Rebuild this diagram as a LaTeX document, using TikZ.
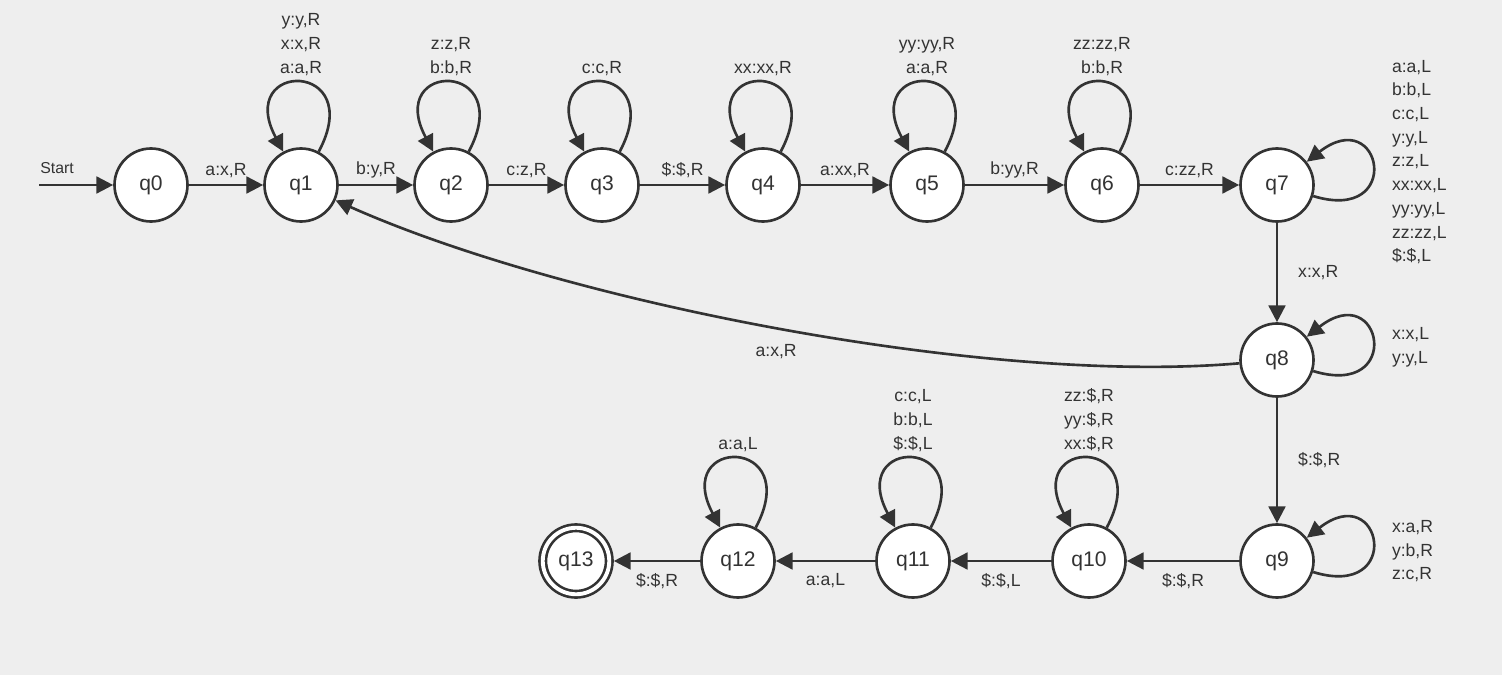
\documentclass[tikz,border=0pt]{standalone}
\usepackage{fontspec}
\setmainfont{Liberation Sans}
\usetikzlibrary{arrows.meta}

\definecolor{ink}{HTML}{333333}
\definecolor{paper}{HTML}{EEEEEE}

\begin{document}
\begin{tikzpicture}[>={Triangle[length=9.5pt,width=9.5pt]}, line width=1.5pt, color=ink,
    state/.style={circle, draw, fill=white, minimum size=1.46cm, inner sep=0pt, font=\fontsize{12}{14}\selectfont},
    accept/.style={state, double, double distance=2.2pt, minimum size=1.33cm, outer sep=2.6pt},
    tlabel/.style={font=\fontsize{10}{13.5}\selectfont, align=center}]
    % Background
    \fill[paper] (0,0) rectangle (30.04,13.5);
    \useasboundingbox (0,0) rectangle (30.04,13.5);

    % States
    \node[state] (q0) at (3.02,9.8) {q0};
    \node[state] (q1) at (6.02,9.8) {q1};
    \node[state] (q2) at (9.02,9.8) {q2};
    \node[state] (q3) at (12.04,9.8) {q3};
    \node[state] (q4) at (15.26,9.8) {q4};
    \node[state] (q5) at (18.54,9.8) {q5};
    \node[state] (q6) at (22.04,9.8) {q6};
    \node[state] (q7) at (25.54,9.8) {q7};
    \node[state] (q8) at (25.54,6.3) {q8};
    \node[state] (q9) at (25.54,2.28) {q9};
    \node[state] (q10) at (21.78,2.28) {q10};
    \node[state] (q11) at (18.26,2.28) {q11};
    \node[state] (q12) at (14.76,2.28) {q12};
    \node[accept] (q13) at (11.52,2.28) {q13};

    % Start arrow
    \coordinate (s) at (0.78,9.8);
    \node[font=\fontsize{9}{10}\selectfont, anchor=south west, inner xsep=0pt, yshift=2.5pt] (start) at (s) {Start};
    \draw[->] (s) -- (q0);

    % Transitions
    \draw[->] (q0) -- node[tlabel, above] {a:x,R} (q1);
    \draw[->] (q1) -- node[tlabel, above] {b:y,R} (q2);
    \draw[->] (q2) -- node[tlabel, above] {c:z,R} (q3);
    \draw[->] (q3) -- node[tlabel, above] {\$:\$,R} (q4);
    \draw[->] (q4) -- node[tlabel, above] {a:xx,R} (q5);
    \draw[->] (q5) -- node[tlabel, above] {b:yy,R} (q6);
    \draw[->] (q6) -- node[tlabel, above] {c:zz,R} (q7);
    \draw[->] (q7) -- node[tlabel, right=8pt] {x:x,R} (q8);
    \draw[->] (q8) -- node[tlabel, right=8pt] {\$:\$,R} (q9);
    \draw[->] (q9) -- node[tlabel, below=3pt] {\$:\$,R} (q10);
    \draw[->] (q10) -- node[tlabel, below=3pt] {\$:\$,L} (q11);
    \draw[->] (q11) -- node[tlabel, below=3pt] {a:a,L} (q12);
    \draw[->] (q12) -- node[tlabel, below=3pt] {\$:\$,R} (q13);
    \draw[->] (q8) to[out=185, in=-24, looseness=0.7] node[tlabel, below=5pt, xshift=-2pt] {a:x,R} (q1);

    % Loops
    \draw[->] (q1) to[out=62, in=118, looseness=7.5] node[tlabel, above] {y:y,R\\x:x,R\\a:a,R} (q1);
    \draw[->] (q2) to[out=62, in=118, looseness=7.5] node[tlabel, above] {z:z,R\\b:b,R} (q2);
    \draw[->] (q3) to[out=62, in=118, looseness=7.5] node[tlabel, above] {c:c,R} (q3);
    \draw[->] (q4) to[out=62, in=118, looseness=7.5] node[tlabel, above] {xx:xx,R} (q4);
    \draw[->] (q5) to[out=62, in=118, looseness=7.5] node[tlabel, above] {yy:yy,R\\a:a,R} (q5);
    \draw[->] (q6) to[out=62, in=118, looseness=7.5] node[tlabel, above] {zz:zz,R\\b:b,R} (q6);
    \draw[->] (q7) to[out=-17, in=38, looseness=7] node[tlabel, right=7pt, align=left, yshift=3pt]
        {a:a,L\\b:b,L\\c:c,L\\y:y,L\\z:z,L\\xx:xx,L\\yy:yy,L\\zz:zz,L\\\$:\$,L} (q7);
    \draw[->] (q8) to[out=-17, in=38, looseness=7] node[tlabel, right=7pt, align=left, yshift=-3pt] {x:x,L\\y:y,L} (q8);
    \draw[->] (q9) to[out=-17, in=38, looseness=7] node[tlabel, right=7pt, align=left, yshift=-4.5pt] {x:a,R\\y:b,R\\z:c,R} (q9);
    \draw[->] (q10) to[out=62, in=118, looseness=7.5] node[tlabel, above] {zz:\$,R\\yy:\$,R\\xx:\$,R} (q10);
    \draw[->] (q11) to[out=62, in=118, looseness=7.5] node[tlabel, above] {c:c,L\\b:b,L\\\$:\$,L} (q11);
    \draw[->] (q12) to[out=62, in=118, looseness=7.5] node[tlabel, above] {a:a,L} (q12);
\end{tikzpicture}
\end{document}
